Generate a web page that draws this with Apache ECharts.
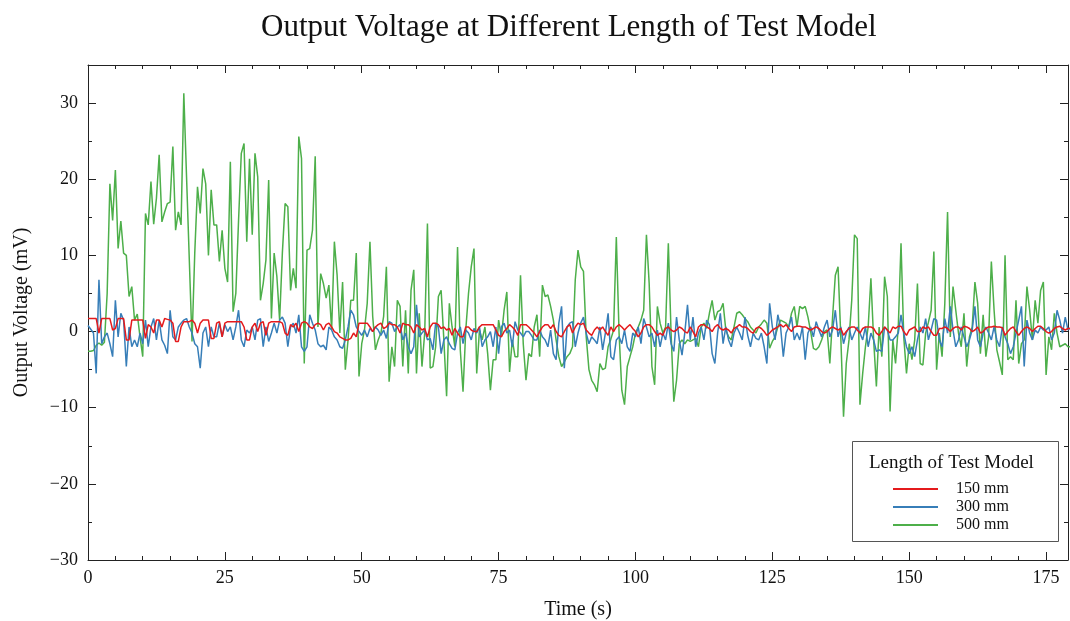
<!DOCTYPE html>
<html>
<head>
<meta charset="utf-8">
<script src="https://cdn.jsdelivr.net/npm/echarts@6/dist/echarts.min.js"></script>
<style>
html,body{margin:0;padding:0;background:#fff;}
#chart{width:1070px;height:621px;}
</style>
</head>
<body>
<div id="chart"></div>
<script>
// Sample interval (s) of the recorded signals
const sampleStep = 0.5;
const seriesNames = ['150 mm', '300 mm', '500 mm'];
const xTicks = [0, 25, 50, 75, 100, 125, 150, 175];
const yTicks = [-30, -20, -10, 0, 10, 20, 30];

// 150 mm (mV), one row = 5 s
const v150 = [
1.7,1.7,1.7,1.7,-0.2,1.7,1.7,1.7,1.7,0.2,
0.4,1.7,1.7,1.7,-1.1,-1.1,1.5,1.5,1.5,1.5,
1.5,-0.9,0.9,0.6,-0.2,1.5,1.5,0.6,1.7,1.6,
1.5,1.1,-1.3,-1.3,0.6,1.3,1.3,1.3,1.5,1.1,
-0.2,1.1,1.5,1.5,1.5,-0.9,-0.9,1.1,1.3,-0.7,
1.1,1.3,1.3,1.3,1.3,1.3,1.3,0.6,-1.1,-1.1,
0.6,1.1,0.0,1.1,1.3,-0.5,1.1,1.3,1.3,1.3,
1.3,1.1,-0.2,-0.5,0.9,0.6,1.1,0.0,1.1,1.3,
1.1,0.6,0.4,0.9,1.1,0.9,0.2,0.9,1.1,0.6,
0.0,-0.2,-0.7,-0.9,-1.1,-1.1,-0.9,-0.2,-0.7,1.1,
1.1,1.1,1.1,0.6,0.0,0.6,0.9,1.1,0.4,0.6,
1.1,0.9,0.9,0.6,-0.2,1.1,0.9,0.9,0.6,-0.2,
0.9,0.6,0.2,0.4,-0.7,0.6,1.1,1.1,0.9,0.4,
0.6,0.2,0.4,-0.5,0.4,-0.2,-0.7,-0.7,0.6,0.6,
0.2,0.0,0.0,0.6,0.9,0.9,0.9,0.9,0.9,0.2,
-0.5,-0.7,0.0,0.4,0.9,0.6,0.2,-0.5,0.9,0.9,
0.9,0.6,0.2,-0.2,-0.7,0.0,0.6,0.9,0.9,0.4,
0.9,0.0,-0.5,-0.7,0.0,0.6,0.9,-0.2,0.6,1.1,
0.9,1.1,0.2,-0.2,-0.5,0.2,0.6,0.2,0.6,0.0,
-0.5,0.6,0.0,0.6,0.9,0.6,0.2,0.6,0.9,0.4,
0.0,-0.7,-0.2,0.6,0.9,0.9,0.6,0.0,-0.5,-0.2,
-0.5,0.4,0.6,0.2,0.0,0.2,0.6,0.4,0.0,-0.2,
0.6,0.0,-0.7,0.6,0.9,0.9,0.6,0.4,0.0,0.6,
0.9,0.4,0.2,0.4,0.2,-0.2,0.4,0.6,0.9,0.6,
0.6,0.4,0.0,-0.2,0.4,0.6,0.4,0.0,-0.5,-0.2,
0.2,0.4,0.6,0.9,0.6,0.9,0.4,0.0,0.6,0.7,
0.7,0.6,0.6,0.4,0.2,0.4,0.6,0.4,0.0,-0.2,
0.0,0.4,0.6,0.4,0.2,0.4,-0.5,0.0,0.4,0.6,
0.6,0.2,-0.2,0.4,0.6,0.6,0.6,0.4,-0.2,-0.5,
0.0,0.6,0.2,-0.2,0.6,0.4,0.7,0.7,0.0,-0.5,
0.2,0.4,0.6,0.0,0.0,0.6,0.4,0.6,0.0,-0.5,
-0.5,0.4,0.4,0.6,0.4,0.0,0.4,0.6,0.6,0.2,
0.7,0.6,0.4,0.0,0.2,0.6,-0.2,0.0,0.4,0.6,
0.6,0.7,0.6,0.6,0.5,-0.5,0.0,0.4,0.6,0.0,
-0.5,0.0,0.4,0.6,0.4,0.0,0.4,0.7,0.7,0.4,
0.0,-0.2,0.0,0.4,0.6,0.7,0.4,0.2,0.4,0.4
];

// 300 mm (mV)
const v300 = [
0.8,0.3,-0.2,-5.5,6.8,-1.6,-0.7,-0.2,-1.6,-3.3,
4.1,-0.7,2.4,1.5,-4.6,0.6,-2.0,-1.1,-2.0,-0.2,
-1.6,1.5,-2.0,0.6,1.7,-1.1,1.5,-1.1,-1.8,-2.9,
2.8,-0.7,-1.1,0.6,1.1,1.5,1.7,0.6,-0.2,-1.6,
-2.0,-4.8,-0.2,0.6,-2.0,0.6,-0.7,-0.7,1.1,-0.7,
0.9,0.0,0.6,-1.1,0.6,2.8,-1.1,-2.0,0.2,-0.2,
0.6,-1.1,1.5,1.7,-2.0,0.6,-1.3,-0.2,1.1,-0.2,
1.5,1.9,1.1,-2.0,0.6,1.1,-0.2,2.2,-2.0,-2.6,
-2.0,2.2,1.1,0.2,-1.6,-2.0,-1.8,-2.4,0.6,0.2,
-0.7,-1.1,-2.0,-2.2,-1.1,0.6,2.8,2.2,0.6,0.0,
-0.5,0.2,-0.7,0.4,0.0,0.6,0.2,-0.5,0.2,-0.9,
1.3,1.1,0.0,0.6,0.9,-1.1,-0.2,-2.0,-2.9,-2.0,
3.5,-0.7,-0.2,0.2,-1.1,-0.9,-2.4,1.1,0.6,-2.9,
-1.1,-0.7,-1.6,-2.2,-2.4,-0.2,0.6,-1.6,0.2,-0.2,
-1.1,0.4,-0.2,0.6,-2.0,-1.1,-0.7,0.0,-2.0,0.6,
-2.9,0.6,1.1,-0.2,0.2,-2.0,1.3,0.2,-0.2,-0.7,
0.0,0.0,-0.5,-1.1,-1.1,0.2,-0.7,-1.1,-2.0,0.2,
-2.9,-3.7,1.1,3.3,-4.8,0.6,1.1,1.3,-2.0,-0.2,
1.1,1.9,-0.2,-1.6,-0.7,-1.1,-1.6,0.6,-2.4,-0.2,
2.4,-3.3,-3.7,-1.1,-0.7,-1.6,0.2,-2.0,-2.6,-0.2,
-0.7,0.6,-1.6,1.7,0.6,-0.7,-0.2,-2.0,0.2,-2.0,
-0.2,-1.1,1.1,-1.6,-2.6,1.9,-1.1,-3.1,-0.2,3.5,
-1.1,1.9,-2.0,-0.2,0.6,-1.1,1.5,0.9,-2.9,-4.2,
-0.2,2.4,-1.6,0.6,-1.1,-2.0,-0.2,0.6,-0.2,-1.1,
1.9,-0.5,-2.0,-0.2,-0.9,-1.1,-0.2,-2.0,-4.2,3.7,
0.6,-1.1,2.2,0.6,-3.3,-0.2,0.6,1.9,-1.1,-0.2,
-1.1,0.6,-3.7,-0.2,0.6,-0.7,1.3,0.2,-0.7,0.6,
1.5,-0.7,0.2,2.8,-0.7,0.6,-1.6,-0.2,0.6,-1.1,
-0.2,0.6,-0.2,-1.1,0.6,-2.0,-0.2,-1.1,-2.6,-2.4,
-2.6,0.6,0.2,-1.1,-1.1,-0.7,-0.2,2.2,-0.2,-2.0,
-2.9,-2.0,-3.3,-1.1,0.6,-0.2,1.7,-1.1,0.2,1.7,
1.5,-1.1,-2.0,1.7,-0.2,3.3,0.2,-2.0,-1.1,0.6,
-0.7,-2.0,-1.1,0.2,3.3,-1.1,-2.0,-0.2,0.6,-0.2,
-1.1,0.6,-1.1,-2.0,0.6,-0.7,-1.6,-2.9,-2.0,-0.2,
1.5,3.3,-4.6,1.5,-0.2,-1.1,0.2,-0.2,0.6,0.2,
0.2,0.6,-1.1,-0.2,2.8,1.5,-0.2,1.9,0.2,0.5
];

// 500 mm (mV)
const v500 = [
-2.6,-2.6,-2.5,-1.8,-1.5,-1.8,-1.4,5.0,19.4,14.6,
21.2,10.9,14.5,10.3,10.0,4.6,5.9,1.5,2.3,-0.7,
-3.3,15.5,14.0,19.7,14.1,17.5,23.2,14.4,15.7,16.8,
17.0,24.3,13.3,15.7,14.0,31.3,20.3,9.5,-1.3,10.3,
19.0,15.5,21.4,19.4,10.0,18.6,14.0,14.0,9.2,13.3,
8.3,6.5,22.3,2.6,5.0,14.6,23.4,24.7,11.8,22.7,
12.7,23.4,20.3,4.1,6.3,9.4,19.9,1.7,10.3,7.2,
1.5,10.3,16.8,16.4,5.4,8.3,5.7,25.6,22.7,-4.2,
10.7,10.9,13.3,23.0,0.6,7.6,6.3,4.4,6.1,0.2,
11.8,7.4,-0.2,6.5,-5.0,-1.1,4.1,4.1,10.3,-5.9,
-1.6,0.2,3.7,11.8,2.0,-2.4,-1.1,-0.2,2.0,8.5,
-6.6,-2.0,-4.6,4.1,3.3,-4.6,2.8,-5.5,5.4,8.1,
-5.5,2.4,-4.6,-0.2,14.2,-4.8,-4.6,-2.0,4.6,5.4,
-1.1,-8.5,3.7,0.6,-2.0,11.1,-2.4,-7.9,0.2,5.0,
8.5,10.9,-5.5,0.2,-1.1,0.6,-2.9,-7.7,-3.7,-3.7,
1.5,-0.7,2.8,5.2,-5.3,-1.1,-3.3,-3.3,7.4,-1.6,
-6.4,-2.9,-3.3,0.6,2.2,-3.3,6.1,4.6,4.8,3.3,
1.5,-1.1,-3.3,-4.6,-4.0,-3.3,-2.9,-2.0,6.8,10.7,
8.5,7.9,-0.7,-5.0,-6.4,-7.0,-7.9,-4.2,-5.0,-4.8,
-2.0,-1.0,0.2,12.4,-0.2,-7.7,-9.6,-4.6,-3.3,-2.0,
-0.2,0.6,1.5,2.8,12.7,6.3,-4.6,-7.0,3.3,1.1,
-0.2,0.6,11.6,-0.2,-9.2,-6.4,-1.6,-1.1,-1.6,-1.1,
-1.3,-1.1,-0.9,-2.0,0.6,1.1,0.4,2.4,4.1,1.5,
2.6,2.8,3.7,0.2,-0.7,-1.1,0.6,2.4,2.6,2.2,
1.7,1.3,0.6,0.2,-0.2,0.6,1.0,1.5,1.1,-2.2,
-1.3,-0.7,0.6,1.5,1.3,1.1,0.6,2.4,3.3,0.6,
3.3,3.0,3.3,1.9,0.0,-2.2,-2.4,-2.0,-1.1,0.0,
0.2,-4.2,1.9,7.4,8.5,-0.7,-11.2,-4.2,-1.1,4.1,
12.7,12.2,-9.6,-5.5,-2.0,0.6,7.0,-1.1,-7.2,0.6,
-3.3,7.2,4.6,-10.5,-1.1,-4.2,0.6,11.6,-0.7,-5.5,
-1.6,-3.7,-1.1,6.3,-4.2,-4.4,-0.2,1.2,2.8,10.5,
-5.0,-0.2,-3.3,3.7,15.7,-0.7,5.9,2.8,-0.2,-2.0,
2.4,-4.6,-0.7,0.6,6.5,3.7,-2.9,2.2,-3.3,-0.7,
9.2,2.8,-2.4,-4.0,-5.7,10.0,-3.7,-3.3,-3.7,4.1,
-4.2,-1.6,-1.1,5.9,2.8,-1.1,4.1,1.1,5.4,6.5,
-5.7,-0.7,-2.4,2.4,-0.2,-2.0,-1.8,-1.6,-2.0,-2.0
];

function toPairs(vals) {
  return vals.map((v, i) => [i * sampleStep, v]);
}

const serif = '"Liberation Serif", "DejaVu Serif", serif';
const minus = v => (v < 0 ? '\u2212' + Math.abs(v) : String(v));
const colors = { '150 mm': '#e41a1c', '300 mm': '#377eb8', '500 mm': '#4daf4a' };

const xBase = {
  type: 'value', min: 0, max: 179, interval: 25,
  axisLine: { show: true, onZero: false, lineStyle: { color: '#222', width: 1 } },
  axisTick: { show: true, inside: true, length: 8, lineStyle: { color: '#222' } },
  minorTick: { show: true, splitNumber: 5, length: 4, lineStyle: { color: '#222' } },
  splitLine: { show: false },
  minorSplitLine: { show: false }
};
const yBase = {
  type: 'value', min: -30, max: 35, interval: 10,
  axisLine: { show: true, onZero: false, lineStyle: { color: '#222', width: 1 } },
  axisTick: { show: true, inside: true, length: 8, lineStyle: { color: '#222' } },
  minorTick: { show: true, splitNumber: 2, length: 4, lineStyle: { color: '#222' } },
  splitLine: { show: false },
  minorSplitLine: { show: false }
};

const chart = echarts.init(document.getElementById('chart'), null, { renderer: 'canvas' });
chart.setOption({
  backgroundColor: '#fff',
  animation: false,
  title: {
    text: 'Output Voltage at Different Length of Test Model',
    left: 256, top: 7,
    textStyle: { fontFamily: serif, fontSize: 31, fontWeight: 'normal', color: '#111' }
  },
  grid: { left: 88, right: 2, top: 65, bottom: 61, outerBoundsMode: 'none', containLabel: false },
  xAxis: [
    Object.assign({}, xBase, {
      position: 'bottom',
      name: 'Time (s)', nameLocation: 'middle', nameGap: 40,
      nameTextStyle: { fontFamily: serif, fontSize: 20, color: '#111' },
      axisLabel: {
        fontFamily: serif, fontSize: 18, color: '#111', margin: 9,
        showMaxLabel: false,
        formatter: v => (xTicks.indexOf(v) >= 0 ? minus(v) : '')
      }
    }),
    Object.assign({}, xBase, { position: 'top', axisLabel: { show: false } })
  ],
  yAxis: [
    Object.assign({}, yBase, {
      position: 'left',
      name: 'Output Voltage (mV)', nameLocation: 'middle', nameGap: 56,
      nameTextStyle: { fontFamily: serif, fontSize: 20, color: '#111' },
      axisLabel: {
        fontFamily: serif, fontSize: 18, color: '#111', margin: 10,
        showMaxLabel: false,
        formatter: v => (yTicks.indexOf(v) >= 0 ? minus(v) : '')
      }
    }),
    Object.assign({}, yBase, { position: 'right', axisLabel: { show: false } })
  ],
  legend: {
    data: seriesNames,
    orient: 'vertical',
    left: 893, top: 481,
    icon: 'rect',
    itemWidth: 45, itemHeight: 2, itemGap: 2,
    padding: 0,
    textStyle: { fontFamily: serif, fontSize: 16, lineHeight: 16, color: '#111', padding: [0, 0, 0, 13] }
  },
  graphic: [
    {
      type: 'rect', left: 852, top: 441, z: 100,
      shape: { width: 206, height: 100 },
      style: { fill: 'rgba(0,0,0,0)', stroke: '#555', lineWidth: 1 }
    },
    {
      type: 'text', left: 869, top: 454, z: 100,
      style: { text: 'Length of Test Model', fontFamily: serif, fontSize: 19, fill: '#111' }
    }
  ],
  series: [
    { name: '500 mm', type: 'line', data: toPairs(v500), showSymbol: false, symbol: 'none',
      lineStyle: { width: 1.5, color: colors['500 mm'] }, itemStyle: { color: colors['500 mm'] }, z: 2 },
    { name: '300 mm', type: 'line', data: toPairs(v300), showSymbol: false, symbol: 'none',
      lineStyle: { width: 1.5, color: colors['300 mm'] }, itemStyle: { color: colors['300 mm'] }, z: 3 },
    { name: '150 mm', type: 'line', data: toPairs(v150), showSymbol: false, symbol: 'none',
      lineStyle: { width: 1.5, color: colors['150 mm'] }, itemStyle: { color: colors['150 mm'] }, z: 4 }
  ]
});
</script>
</body>
</html>
